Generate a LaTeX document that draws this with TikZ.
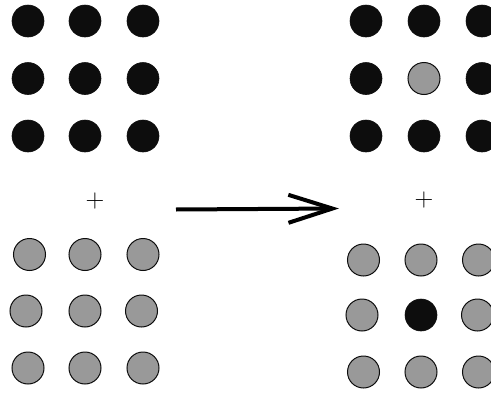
\documentclass[tikz,border=0pt]{standalone}
\usetikzlibrary{arrows.meta}
\definecolor{dotblack}{HTML}{0D0D0D}
\definecolor{dotgray}{HTML}{999999}
\tikzset{
  blk/.style={circle, fill=dotblack, draw=dotblack, line width=0.6pt, minimum size=32pt, inner sep=0pt},
  gry/.style={circle, fill=dotgray, draw=dotblack, line width=1pt, minimum size=32pt, inner sep=0pt},
  plussign/.style={inner sep=0pt, font=\fontsize{26}{26}\selectfont},
  bigarrow/.style={line width=4pt, -{Straight Barb[length=44pt, width=28pt, line width=4pt]}}
}
\begin{document}
\begin{tikzpicture}[x=1pt, y=-1pt]
\useasboundingbox (0,0) rectangle (491,394);
% left top block (black)
\node[blk] (a11) at (28,21) {};
\node[blk] (a12) at (85,21) {};
\node[blk] (a13) at (143,21) {};
\node[blk] (a21) at (28,78.5) {};
\node[blk] (a22) at (85,78.5) {};
\node[blk] (a23) at (143,78.5) {};
\node[blk] (a31) at (28,136) {};
\node[blk] (a32) at (85,136) {};
\node[blk] (a33) at (143,136) {};
% left bottom block (gray)
\node[gry] (b11) at (29.5,254.5) {};
\node[gry] (b12) at (85,254.5) {};
\node[gry] (b13) at (143,254.5) {};
\node[gry] (b21) at (26,311) {};
\node[gry] (b22) at (85,311) {};
\node[gry] (b23) at (141.5,311) {};
\node[gry] (b31) at (28,368) {};
\node[gry] (b32) at (85,368) {};
\node[gry] (b33) at (143,368) {};
% plus signs
\node[plussign] (p1) at (95,201) {+};
\node[plussign] (p2) at (424,200) {+};
% right top block
\node[blk] (c11) at (366,21) {};
\node[blk] (c12) at (424,21) {};
\node[blk] (c13) at (482,21) {};
\node[blk] (c21) at (366,78.5) {};
\node[gry] (c22) at (424,78.5) {};
\node[blk] (c23) at (482,78.5) {};
\node[blk] (c31) at (366,136) {};
\node[blk] (c32) at (424,136) {};
\node[blk] (c33) at (482,136) {};
% right bottom block
\node[gry] (d11) at (363.5,260) {};
\node[gry] (d12) at (421,260) {};
\node[gry] (d13) at (478.5,260) {};
\node[gry] (d21) at (362,315) {};
\node[blk] (d22) at (421,315) {};
\node[gry] (d23) at (477.5,315) {};
\node[gry] (d31) at (363.5,372) {};
\node[gry] (d32) at (421,372) {};
\node[gry] (d33) at (478.5,372) {};
% arrow
\coordinate (s) at (176,209.5);
\coordinate (e) at (339,208.5);
\draw[bigarrow] (s) -- (e);
\end{tikzpicture}
\end{document}
